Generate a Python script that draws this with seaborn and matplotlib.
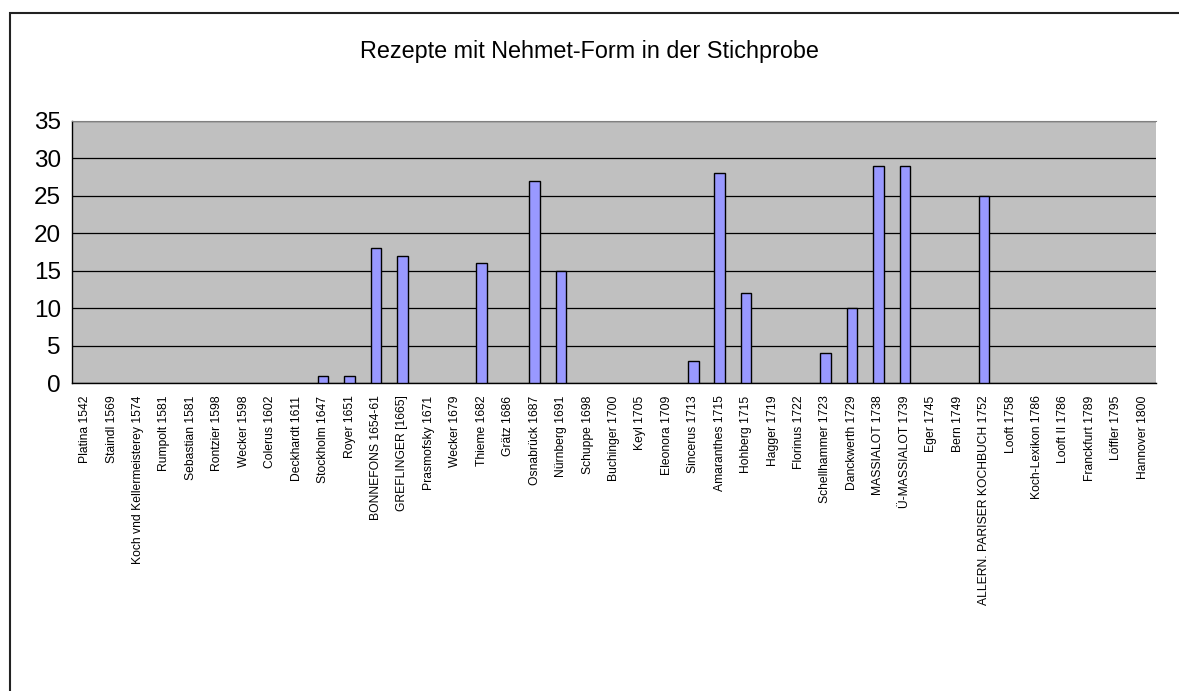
import numpy as np
import pandas as pd
import matplotlib.pyplot as plt
import seaborn as sns
from matplotlib.patches import Rectangle

# Daten
quellen = ['Platina 1542', 'Staindl 1569', 'Koch vnd Kellermeisterey 1574', 'Rumpolt 1581',
           'Sebastian 1581', 'Rontzier 1598', 'Wecker 1598', 'Colerus 1602', 'Deckhardt 1611',
           'Stockholm 1647', 'Royer 1651', 'BONNEFONS 1654-61', 'GREFLINGER [1665]',
           'Prasmofsky 1671', 'Wecker 1679', 'Thieme 1682', 'Grätz 1686', 'Osnabrück 1687',
           'Nürnberg 1691', 'Schuppe 1698', 'Buchinger 1700', 'Keyl 1705', 'Eleonora 1709',
           'Sincerus 1713', 'Amaranthes 1715', 'Hohberg 1715', 'Hagger 1719', 'Florinus 1722',
           'Schellhammer 1723', 'Danckwerth 1729', 'MASSIALOT 1738', 'Ü-MASSIALOT 1739',
           'Eger 1745', 'Bern 1749', 'ALLERN. PARISER KOCHBUCH 1752', 'Looft 1758',
           'Koch-Lexikon 1786', 'Looft II 1786', 'Franckfurt 1789', 'Löffler 1795',
           'Hannover 1800']
rezepte = [0, 0, 0, 0, 0, 0, 0, 0, 0, 1, 1, 18, 17, 0, 0, 16, 0, 27, 15, 0, 0, 0, 0,
           3, 28, 12, 0, 0, 4, 10, 29, 29, 0, 0, 25, 0, 0, 0, 0, 0, 0]
y_ticks = [0, 5, 10, 15, 20, 25, 30, 35]

df = pd.DataFrame({'quelle': quellen, 'rezepte': rezepte})

sns.set_style('white')
plt.rcParams['font.family'] = ['Liberation Sans', 'DejaVu Sans']
plt.rcParams['text.color'] = 'black'
plt.rcParams['xtick.color'] = 'black'
plt.rcParams['ytick.color'] = 'black'

fig = plt.figure(figsize=(11.79, 6.91), dpi=100)
ax = fig.add_axes([0.061, 0.4457, 0.9195, 0.3792])

sns.barplot(data=df, x='quelle', y='rezepte', color='#9999FF', saturation=1,
            width=0.4, edgecolor='black', linewidth=1.0, ax=ax, zorder=3)

# Balken mit Wert 0 ohne Randlinie
for bar in ax.patches:
    if bar.get_height() == 0:
        bar.set_linewidth(0)

ax.set_facecolor('#C0C0C0')
ax.set_ylim(0, 35)
ax.set_xlim(-0.5, len(quellen) - 0.5)
ax.set_yticks(y_ticks)
ax.set_yticklabels([str(t) for t in y_ticks], fontsize=17.5)
ax.yaxis.grid(True, color='black', linewidth=0.9)
ax.set_axisbelow(True)

# Kategorie-Beschriftungen und Teilstriche zwischen den Kategorien
ax.set_xticks(range(len(quellen)))
ax.set_xticklabels(quellen, rotation=90, fontsize=8.7)
ax.tick_params(axis='x', length=0, pad=9)
ax.set_xticks(np.arange(-0.5, len(quellen)), minor=True)
ax.tick_params(axis='x', which='minor', length=5, width=0.8, color='black', direction='out')
ax.tick_params(axis='y', length=5, width=0.8, color='black', direction='out', pad=3)

ax.set_xlabel('')
ax.set_ylabel('')
for side in ['left', 'bottom']:
    ax.spines[side].set_color('black')
    ax.spines[side].set_linewidth(1)
ax.spines['top'].set_color('#808080')
ax.spines['right'].set_visible(False)

fig.text(0.5, 0.925, 'Rezepte mit Nehmet-Form in der Stichprobe', ha='center',
         va='center', fontsize=16.8, color='black')

# Rahmen um das Diagramm
fig.patches.append(Rectangle((10 / 1179, -0.1), 1.1, 0.1 + (1 - 13 / 691), transform=fig.transFigure,
                             fill=False, edgecolor='#222222', linewidth=1.5))

plt.savefig('out.png', dpi=100)
